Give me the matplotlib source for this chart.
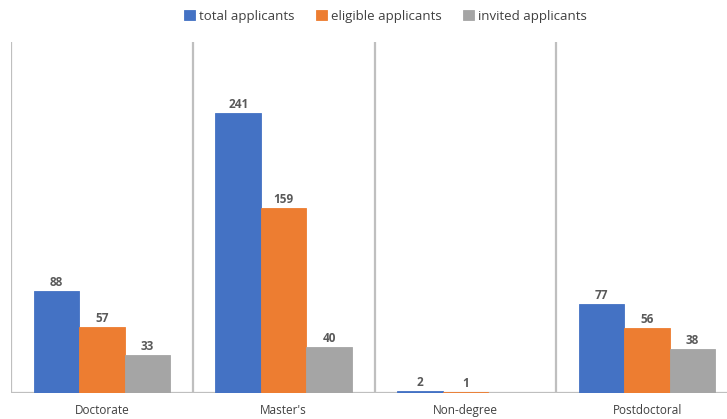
import matplotlib
matplotlib.use("Agg")
import matplotlib.pyplot as plt
import numpy as np

categories = ["Doctorate", "Master's", "Non-degree", "Postdoctoral"]
series_names = ["total applicants", "eligible applicants", "invited applicants"]
total_applicants = [88, 241, 2, 77]
eligible_applicants = [57, 159, 1, 56]
invited_applicants = [33, 40, 0, 38]
colors = ["#4472c4", "#ed7d31", "#a5a5a5"]

plt.rcParams["font.family"] = ["Open Sans", "DejaVu Sans"]

fig = plt.figure(figsize=(7.27, 4.19), dpi=100)
ax = fig.add_axes([11 / 727, 26 / 419, 1.0, 351 / 419])

x = np.arange(len(categories))
width = 0.25
all_series = [total_applicants, eligible_applicants, invited_applicants]
for k, (vals, name, col) in enumerate(zip(all_series, series_names, colors)):
    pos = x + (k - 1) * width
    bars = ax.bar(pos, vals, width, color=col, label=name, edgecolor=col,
                  linewidth=0.6, zorder=3)
    for b, v in zip(bars, vals):
        if v > 0:
            ax.text(b.get_x() + b.get_width() / 2, v + 1.5, str(v),
                    ha="center", va="bottom", fontsize=8.5, color="#595959",
                    fontweight="bold")

ax.set_xlim(-0.5, 3.5)
ax.set_ylim(0, 302)
for sep in np.arange(-0.5, 3.6, 1.0):
    ax.axvline(sep, color="#bfbfbf", linewidth=1.6, zorder=1)
ax.axhline(0, color="#bfbfbf", linewidth=1.6, zorder=2)

for s in ax.spines.values():
    s.set_visible(False)
ax.set_yticks([])
ax.set_xticks(x)
ax.set_xticklabels(categories, fontsize=8.5, color="#404040")
ax.tick_params(axis="x", length=0, pad=8)

fig.legend(loc="upper center", bbox_to_anchor=(0.53, 1.005), ncol=3,
           frameon=False, fontsize=9.5, handlelength=0.85, handleheight=0.85,
           handletextpad=0.3, columnspacing=1.6, labelcolor="#404040")

fig.savefig("out.png", dpi=100)
